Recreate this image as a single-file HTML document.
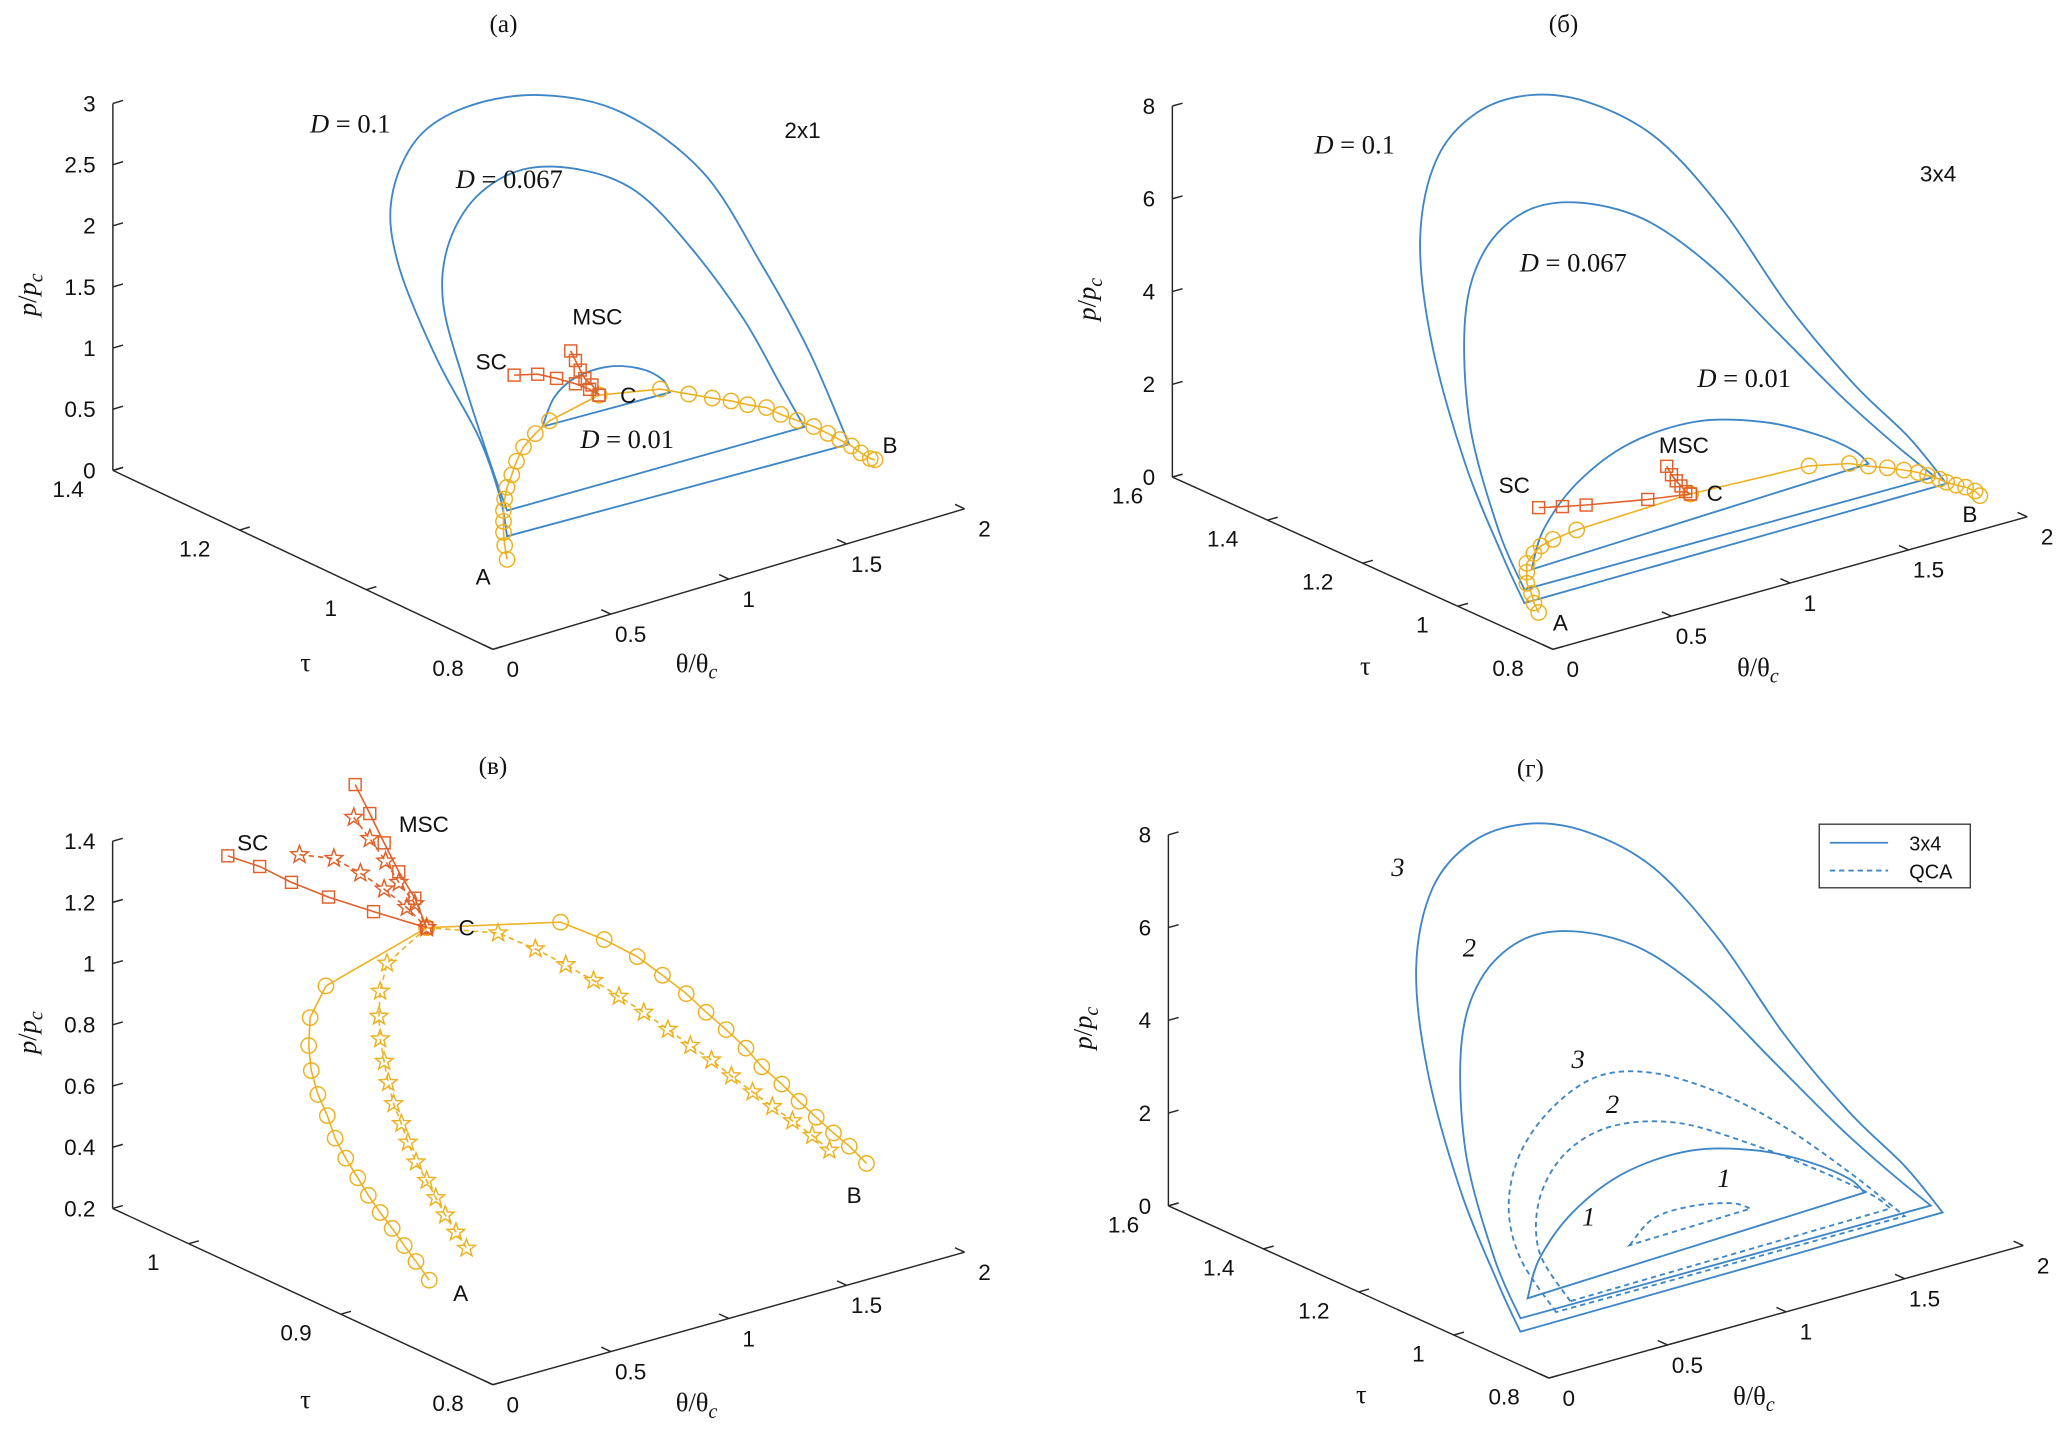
<!DOCTYPE html>
<html><head><meta charset="utf-8"><style>
html,body{margin:0;padding:0;background:#fff;}
svg{display:block;}
text{font-family:"Liberation Sans",sans-serif;fill:#111;}
.serif{font-family:"Liberation Serif",serif;}
</style></head>
<body>
<svg id="fig" width="2067" height="1443" viewBox="0 0 1560 1089" preserveAspectRatio="none" xmlns="http://www.w3.org/2000/svg">
<rect width="1560" height="1089" fill="#fff"/>
<g id="layer"></g>
<g>
<text class="serif" x="380" y="24" font-size="19" text-anchor="middle">(a)</text>
<text class="serif" x="1180" y="24" font-size="19" text-anchor="middle">(б)</text>
<text class="serif" x="372" y="584" font-size="19" text-anchor="middle">(в)</text>
<text class="serif" x="1155" y="586" font-size="19" text-anchor="middle">(г)</text>

<text class="serif" x="234" y="100" font-size="20"><tspan font-style="italic">D</tspan> = 0.1</text>
<text class="serif" x="344" y="142" font-size="20"><tspan font-style="italic">D</tspan> = 0.067</text>
<text class="serif" x="438" y="338" font-size="20"><tspan font-style="italic">D</tspan> = 0.01</text>
<text x="592" y="104" font-size="17">2x1</text>
<text x="432" y="245" font-size="17">MSC</text>
<text x="359" y="279" font-size="17">SC</text>
<text x="468" y="304" font-size="17">C</text>
<text x="666" y="342" font-size="17">B</text>
<text x="359" y="441" font-size="17">A</text>

<text class="serif" x="992" y="116" font-size="20"><tspan font-style="italic">D</tspan> = 0.1</text>
<text class="serif" x="1147" y="205" font-size="20"><tspan font-style="italic">D</tspan> = 0.067</text>
<text class="serif" x="1281" y="292" font-size="20"><tspan font-style="italic">D</tspan> = 0.01</text>
<text x="1449" y="137" font-size="17">3x4</text>
<text x="1252" y="342" font-size="17">MSC</text>
<text x="1131" y="372" font-size="17">SC</text>
<text x="1288" y="378" font-size="17">C</text>
<text x="1481" y="394" font-size="17">B</text>
<text x="1172" y="476" font-size="17">A</text>

<text x="179" y="642" font-size="17">SC</text>
<text x="301" y="628" font-size="17">MSC</text>
<text x="346" y="706" font-size="17">C</text>
<text x="639" y="908" font-size="17">B</text>
<text x="342" y="982" font-size="17">A</text>

<text class="serif" x="1050" y="661" font-size="20" font-style="italic">3</text>
<text class="serif" x="1104" y="722" font-size="20" font-style="italic">2</text>
<text class="serif" x="1186" y="806" font-size="20" font-style="italic">3</text>
<text class="serif" x="1212" y="840" font-size="20" font-style="italic">2</text>
<text class="serif" x="1296" y="896" font-size="20" font-style="italic">1</text>
<text class="serif" x="1194" y="925" font-size="20" font-style="italic">1</text>

<g>
<rect x="1373" y="622" width="114" height="48" fill="#fff" stroke="#333" stroke-width="1"/>
<line x1="1381" y1="636" x2="1425" y2="636" stroke="#3f86c6" stroke-width="1.4"/>
<text x="1441" y="642" font-size="15">3x4</text>
<line x1="1381" y1="657" x2="1425" y2="657" stroke="#3f86c6" stroke-width="1.4" stroke-dasharray="4,3"/>
<text x="1441" y="663" font-size="15">QCA</text>
</g>
</g>
</svg>
<script>
// ---------- data: panel (a) ----------
const a_D01_th = [.06,.03,-.06,-.24,-.40,-.43,-.32,-.10,.21,.55,.89,1.14,1.34,1.51];
const a_D01_p = [.89,1.23,1.77,2.52,3.37,3.93,4.36,4.50,4.41,4.07,3.39,2.49,1.67,.81];
const a_D0067_th = [.06,-.01,-.12,-.21,-.19,-.07,.13,.38,.61,.83,1.06,1.22,1.32];
const a_D0067_p = [1.10,1.52,2.24,2.94,3.41,3.74,3.85,3.70,3.39,2.83,2.10,1.46,1.06];
const a_D001_th = [.21,.26,.35,.49,.63,.72,.75];
const a_D001_p = [1.70,1.91,2.02,2.03,1.93,1.79,1.67];
const a_orL_th = [.06,.05,.045,.045,.045,.05,.06,.08,.10,.13,.18,.24,.45];
const a_orL_p = [.70,.82,.93,1.02,1.11,1.20,1.29,1.38,1.48,1.58,1.66,1.73,1.82];
const a_orR_th = [.45,.71,.83,.93,1.01,1.08,1.16,1.22,1.29,1.36,1.42,1.47,1.52,1.56,1.60,1.62];
const a_orR_p = [1.82,1.72,1.61,1.52,1.45,1.38,1.31,1.22,1.13,1.04,.95,.87,.79,.71,.64,.62];
const a_sc_th = [.09,.19,.27,.35,.41,.45];
const a_sc_p = [2.19,2.14,2.06,1.97,1.89,1.82];
const a_msc_th = [.33,.35,.37,.39,.42,.45];
const a_msc_p = [2.25,2.16,2.07,1.99,1.92,1.82];
// ---------- data: panel (б) ----------
const b_D01_th = [-.12,-.21,-.37,-.51,-.56,-.49,-.32,-.09,.16,.44,.72,.99,1.27,1.50,1.66];
const b_D01_p = [1.17,2.29,4.53,7.31,9.65,11.27,12.03,12.08,11.55,10.38,8.41,6.01,3.90,2.43,1.20];
const b_D0067_th = [-.12,-.23,-.35,-.37,-.29,-.12,.10,.38,.66,.94,1.22,1.44,1.61];
const b_D0067_p = [1.46,2.91,5.35,7.68,8.99,9.60,9.49,8.74,7.35,5.52,3.69,2.37,1.42];
const b_D001_th = [-.09,-.04,.10,.32,.60,.88,1.11,1.27,1.33];
const b_D001_p = [1.85,2.63,3.43,3.97,4.05,3.65,3.05,2.47,2.10];
const b_orL_th = [-.06,-.08,-.09,-.11,-.11,-.11,-.08,-.05,0,.10,.58];
const b_orL_p = [.88,1.11,1.33,1.58,1.82,2.01,2.18,2.30,2.37,2.43,2.52];
const b_orR_th = [.58,1.08,1.25,1.33,1.41,1.48,1.54,1.58,1.63,1.66,1.70,1.74,1.78,1.80];
const b_orR_p = [2.52,2.41,2.22,2.05,1.90,1.75,1.61,1.49,1.34,1.23,1.11,1.01,.87,.74];
const b_sc_th = [-.06,.04,.14,.40,.58];
const b_sc_p = [3.14,3.02,2.91,2.66,2.52];
const b_msc_th = [.48,.50,.52,.54,.56,.58];
const b_msc_p = [3.26,3.05,2.89,2.75,2.60,2.52];
// ---------- data: panel (в) ----------
const c_orL_th = [-.281,-.708,-.775,-.781,-.770,-.742,-.702,-.669,-.624,-.573,-.528,-.478,-.427,-.376,-.326,-.270];
const c_orL_p = [1.754,1.656,1.567,1.477,1.393,1.309,1.231,1.150,1.075,1.000,.933,.866,.803,.736,.673,.600];
const c_stL_th = [-.281,-.449,-.478,-.483,-.478,-.461,-.444,-.421,-.388,-.360,-.326,-.281,-.242,-.202,-.157,-.112];
const c_stL_p = [1.754,1.674,1.589,1.508,1.433,1.356,1.283,1.209,1.137,1.070,.998,.928,.863,.798,.732,.670];
const c_orR_th = [-.281,.287,.472,.612,.719,.820,.904,.989,1.073,1.140,1.225,1.298,1.371,1.444,1.511,1.584];
const c_orR_p = [1.754,1.649,1.552,1.466,1.382,1.300,1.221,1.146,1.067,.992,.917,.845,.777,.710,.652,.580];
const c_stR_th = [-.281,.022,.180,.309,.427,.534,.640,.742,.837,.927,1.011,1.101,1.185,1.270,1.354,1.427];
const c_stR_p = [1.754,1.671,1.585,1.505,1.428,1.353,1.278,1.200,1.127,1.060,.990,.918,.852,.787,.721,.657];
const c_sc_th = [-1.124,-.989,-.854,-.697,-.506,-.281];
const c_sc_p = [2.171,2.107,2.026,1.944,1.855,1.754];
const c_scs_th = [-.820,-.674,-.562,-.461,-.365,-.281];
const c_scs_p = [2.109,2.065,1.993,1.919,1.838,1.754];
const c_msc_th = [-.584,-.522,-.461,-.399,-.331,-.281];
const c_msc_p = [2.287,2.179,2.070,1.962,1.861,1.754];
const c_mscs_th = [-.590,-.522,-.455,-.399,-.331,-.281];
const c_mscs_p = [2.181,2.097,2.009,1.927,1.843,1.754];
// ---------- data: panel (г) ----------
const g_s3_th = [-.12,-.21,-.37,-.51,-.56,-.49,-.32,-.09,.16,.44,.72,.99,1.27,1.50,1.66];
const g_s3_p = [1.17,2.29,4.53,7.31,9.65,11.27,12.03,12.08,11.55,10.38,8.41,6.01,3.90,2.43,1.20];
const g_s2_th = [-.12,-.23,-.35,-.37,-.29,-.12,.10,.38,.66,.94,1.22,1.44,1.61];
const g_s2_p = [1.46,2.91,5.35,7.68,8.99,9.60,9.49,8.74,7.35,5.52,3.69,2.37,1.42];
const g_s1_th = [-.09,-.04,.10,.32,.60,.88,1.11,1.27,1.33];
const g_s1_p = [1.85,2.63,3.43,3.97,4.05,3.65,3.05,2.47,2.10];
const g_q3_th = [.03,-.12,-.17,-.12,.02,.21,.44,.72,.99,1.27,1.50];
const g_q3_p = [1.38,2.75,3.95,5.03,5.83,6.21,5.95,5.12,4.01,2.61,1.35];
const g_q2_th = [.09,-.04,-.04,.07,.27,.55,.88,1.16,1.36,1.44];
const g_q2_p = [1.53,2.77,3.91,4.75,5.05,4.71,3.74,2.77,2.01,1.60];
const g_q1_th = [.34,.44,.60,.77,.85];
const g_q1_p = [2.38,2.81,2.85,2.67,2.44];
// ---------- ticks ----------
const a_thTicks = [0,0.5,1,1.5,2];
const a_tauTicks = [0.8,1,1.2,1.4];
const a_pTicks = [0,0.5,1,1.5,2,2.5,3];
const b_thTicks = [0,0.5,1,1.5,2];
const b_tauTicks = [0.8,1,1.2,1.4,1.6];
const b_pTicks = [0,2,4,6,8];
const c_thTicks = [0,0.5,1,1.5,2];
const c_tauTicks = [0.8,0.9,1];
const c_pTicks = [0.2,0.4,0.6,0.8,1,1.2,1.4];

const NS = "http://www.w3.org/2000/svg";
const layer = document.getElementById('layer');
const BLUE = "#3f86c6", ORANGE = "#EDB120", RED = "#E0602A";

const PA = {x0:372,y0:490,tx:178,ty:-53,ux:-478,uy:-225,pz:-92.3,t0:0.8,p0:0,tauMax:1.4,thMax:2,pMax:3};
const PB = {x0:1172,y0:490,tx:179,ty:-50,ux:-359,uy:-162.5,pz:-35,t0:0.8,p0:0,tauMax:1.6,thMax:2,pMax:8};
const PC = {x0:372,y0:1045,tx:178,ty:-50,ux:-1148,uy:-532,pz:-231,t0:0.8,p0:0.2,tauMax:1.05,thMax:2,pMax:1.4};
const PD = {x0:1169,y0:1040,tx:179,ty:-50,ux:-359,uy:-162.5,pz:-35,t0:0.8,p0:0,tauMax:1.6,thMax:2,pMax:8};

function proj(P, th, tau, p){
  return [P.x0 + P.tx*th + P.ux*(tau-P.t0), P.y0 + P.ty*th + P.uy*(tau-P.t0) + P.pz*(p-P.p0)];
}
function mk(tag, attrs){
  const e = document.createElementNS(NS, tag);
  for (const k in attrs) e.setAttribute(k, attrs[k]);
  return e;
}
function smoothD(pts, closed){
  let d = "M"+pts[0][0].toFixed(1)+","+pts[0][1].toFixed(1);
  for (let i=0;i<pts.length-1;i++){
    const p0 = pts[Math.max(0,i-1)], p1 = pts[i], p2 = pts[i+1], p3 = pts[Math.min(pts.length-1,i+2)];
    const c1 = [p1[0]+(p2[0]-p0[0])/6, p1[1]+(p2[1]-p0[1])/6];
    const c2 = [p2[0]-(p3[0]-p1[0])/6, p2[1]-(p3[1]-p1[1])/6];
    d += " C"+c1[0].toFixed(1)+","+c1[1].toFixed(1)+" "+c2[0].toFixed(1)+","+c2[1].toFixed(1)+" "+p2[0].toFixed(1)+","+p2[1].toFixed(1);
  }
  if (closed) d += " Z";
  return d;
}
function loop(P, th, p, name, dashed){
  const pts = th.map((t,i)=>proj(P,t,P.t0,p[i]));
  const el = mk('path',{d:smoothD(pts,true),fill:'none',stroke:BLUE,'stroke-width':1.4});
  if (dashed) el.setAttribute('stroke-dasharray','4,3');
  
  
  layer.appendChild(el);
}
function starD(x,y,r){
  let d="";
  for(let k=0;k<10;k++){
    const rr = k%2===0 ? r : r*0.42;
    const a = -Math.PI/2 + k*Math.PI/5;
    d += (k===0?"M":"L")+(x+rr*Math.cos(a)).toFixed(1)+","+(y+rr*Math.sin(a)).toFixed(1);
  }
  return d+"Z";
}
function series(P, th, p, color, marker, name, dashed){
  const g = mk('g',{});
  
  
  const pts = th.map((t,i)=>proj(P,t,P.t0,p[i]));
  const line = mk('polyline',{points:pts.map(q=>q[0].toFixed(1)+","+q[1].toFixed(1)).join(" "),fill:'none',stroke:color,'stroke-width':1.2});
  if (dashed) line.setAttribute('stroke-dasharray','4,3');
  
  
  g.appendChild(line);
  pts.forEach(q=>{
    let m;
    if (marker==='o') m = mk('circle',{cx:q[0],cy:q[1],r:5.8,fill:'none',stroke:color,'stroke-width':1.1});
    else if (marker==='s') m = mk('rect',{x:q[0]-4.5,y:q[1]-4.5,width:9,height:9,fill:'none',stroke:color,'stroke-width':1.1});
    else m = mk('path',{d:starD(q[0],q[1],7),fill:'none',stroke:color,'stroke-width':1.1});
    
    
    g.appendChild(m);
  });
  layer.appendChild(g);
}
function fmt(v){ return String(v); }
function axes(P, thT, tauT, pT, tag){
  const g = mk('g',{stroke:'#262626','stroke-width':1.1,fill:'none'});
  
  
  const o = proj(P,0,P.t0,P.p0), ex = proj(P,P.thMax,P.t0,P.p0), et = proj(P,0,P.tauMax,P.p0), ep = proj(P,0,P.tauMax,P.pMax);
  g.appendChild(mk('line',{x1:o[0],y1:o[1],x2:ex[0],y2:ex[1]}));
  g.appendChild(mk('line',{x1:o[0],y1:o[1],x2:et[0],y2:et[1]}));
  g.appendChild(mk('line',{x1:et[0],y1:et[1],x2:ep[0],y2:ep[1]}));
  layer.appendChild(g);
  const txt = mk('g',{});
  
  
  const tl = Math.hypot(P.ux,P.uy), xl = Math.hypot(P.tx,P.ty);
  thT.forEach(v=>{
    const q = proj(P,v,P.t0,P.p0);
    g.appendChild(mk('line',{x1:q[0],y1:q[1],x2:q[0]+8*P.ux/tl,y2:q[1]+8*P.uy/tl}));
    const t = mk('text',{x:q[0]+15,y:q[1]+21,'font-size':17,'text-anchor':'middle'});
    t.textContent = fmt(v); txt.appendChild(t);
  });
  tauT.forEach(v=>{
    const q = proj(P,0,v,P.p0);
    g.appendChild(mk('line',{x1:q[0],y1:q[1],x2:q[0]+8*P.tx/xl,y2:q[1]+8*P.ty/xl}));
    const t = mk('text',{x:q[0]-22,y:q[1]+20,'font-size':17,'text-anchor':'end'});
    t.textContent = fmt(v); txt.appendChild(t);
  });
  pT.forEach(v=>{
    const q = proj(P,0,P.tauMax,v);
    g.appendChild(mk('line',{x1:q[0],y1:q[1],x2:q[0]+8*P.tx/xl,y2:q[1]+8*P.ty/xl}));
    const t = mk('text',{x:q[0]-13,y:q[1]+6,'font-size':17,'text-anchor':'end'});
    t.textContent = fmt(v); txt.appendChild(t);
  });
  layer.appendChild(txt);
  const tt = proj(P,0,(P.t0+P.tauMax)/2,P.p0);
  const th = proj(P,P.thMax/2,P.t0,P.p0);
  const tp = proj(P,0,P.tauMax,(P.p0+P.pMax)/2);
  const t1 = mk('text',{x:tt[0]-2,y:tt[1]+84,'font-size':20,'class':'serif'});
  t1.textContent = 'τ';
  
  
  layer.appendChild(t1);
  const t2 = mk('text',{x:th[0]-40,y:th[1]+70,'font-size':20,'class':'serif'});
  t2.innerHTML = 'θ/θ<tspan font-style="italic" font-size="15" dy="5">c</tspan>';
  
  
  layer.appendChild(t2);
  const t3 = mk('text',{x:0,y:0,'font-size':20,'class':'serif',transform:'translate('+(tp[0]-58)+','+(tp[1]+22)+') rotate(-90)'});
  t3.innerHTML = '<tspan font-style="italic">p</tspan>/<tspan font-style="italic">p</tspan><tspan font-style="italic" font-size="15" dy="5">c</tspan>';
  
  
  layer.appendChild(t3);
}

axes(PA, a_thTicks, a_tauTicks, a_pTicks, 'a');
loop(PA, a_D01_th, a_D01_p, 'loop-d01-a');
loop(PA, a_D0067_th, a_D0067_p, 'loop-d0067-a');
loop(PA, a_D001_th, a_D001_p, 'loop-d001-a');
series(PA, a_orL_th, a_orL_p, ORANGE, 'o', 'path-ac-a');
series(PA, a_orR_th, a_orR_p, ORANGE, 'o', 'path-cb-a');
series(PA, a_sc_th, a_sc_p, RED, 's', 'path-sc-a');
series(PA, a_msc_th, a_msc_p, RED, 's', 'path-msc-a');

axes(PB, b_thTicks, b_tauTicks, b_pTicks, 'b');
loop(PB, b_D01_th, b_D01_p, 'loop-d01-b');
loop(PB, b_D0067_th, b_D0067_p, 'loop-d0067-b');
loop(PB, b_D001_th, b_D001_p, 'loop-d001-b');
series(PB, b_orL_th, b_orL_p, ORANGE, 'o', 'path-ac-b');
series(PB, b_orR_th, b_orR_p, ORANGE, 'o', 'path-cb-b');
series(PB, b_sc_th, b_sc_p, RED, 's', 'path-sc-b');
series(PB, b_msc_th, b_msc_p, RED, 's', 'path-msc-b');

axes(PC, c_thTicks, c_tauTicks, c_pTicks, 'c');
series(PC, c_orL_th, c_orL_p, ORANGE, 'o', 'path-ca-3x4-c');
series(PC, c_stL_th, c_stL_p, ORANGE, '*', 'path-ca-qca-c', true);
series(PC, c_orR_th, c_orR_p, ORANGE, 'o', 'path-cb-3x4-c');
series(PC, c_stR_th, c_stR_p, ORANGE, '*', 'path-cb-qca-c', true);
series(PC, c_sc_th, c_sc_p, RED, 's', 'path-sc-3x4-c');
series(PC, c_scs_th, c_scs_p, RED, '*', 'path-sc-qca-c', true);
series(PC, c_msc_th, c_msc_p, RED, 's', 'path-msc-3x4-c');
series(PC, c_mscs_th, c_mscs_p, RED, '*', 'path-msc-qca-c', true);

axes(PD, b_thTicks, b_tauTicks, b_pTicks, 'd');
loop(PD, g_s3_th, g_s3_p, 'loop-3-3x4-d');
loop(PD, g_s2_th, g_s2_p, 'loop-2-3x4-d');
loop(PD, g_s1_th, g_s1_p, 'loop-1-3x4-d');
loop(PD, g_q3_th, g_q3_p, 'loop-3-qca-d', true);
loop(PD, g_q2_th, g_q2_p, 'loop-2-qca-d', true);
loop(PD, g_q1_th, g_q1_p, 'loop-1-qca-d', true);
</script>
</body></html>
